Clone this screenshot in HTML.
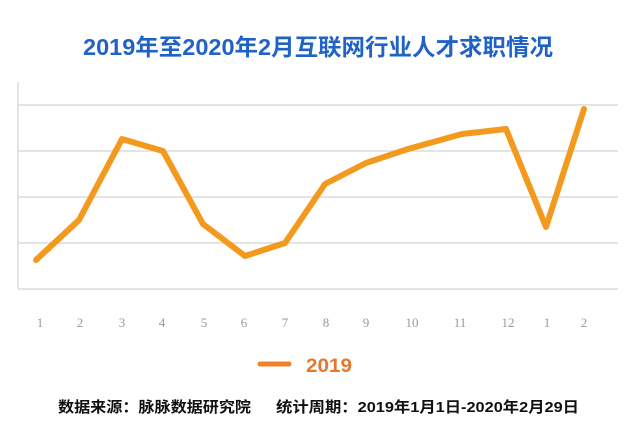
<!DOCTYPE html>
<html><head><meta charset="utf-8"><style>
body{margin:0;width:627px;height:432px;background:#fff;overflow:hidden;font-family:"Liberation Sans","Noto Sans CJK SC",sans-serif}
</style></head><body>
<svg width="627" height="432" xmlns="http://www.w3.org/2000/svg" style="position:absolute;left:0;top:0">
<text x="83" y="55" textLength="470" lengthAdjust="spacingAndGlyphs" font-size="23" font-weight="bold" fill="#1f63c6" font-family="Liberation Sans, Noto Sans CJK SC, sans-serif">2019年至2020年2月互联网行业人才求职情况</text>
<g stroke="#d4d4d4" stroke-width="1.2">
<line x1="18" y1="105" x2="618" y2="105"/>
<line x1="18" y1="151" x2="618" y2="151"/>
<line x1="18" y1="197" x2="618" y2="197"/>
<line x1="18" y1="243" x2="618" y2="243"/>
<line x1="18" y1="289" x2="618" y2="289"/>
<line x1="18" y1="82" x2="18" y2="289"/>
</g>
<polyline fill="none" stroke="#f39a1e" stroke-width="6" stroke-linejoin="round" stroke-linecap="round" points="36,260 79,220 122,139 163,151 203,224 245,256 285,243 325,184 366,163 408,149 462,134 506,129 546,227 584,109"/>
<g font-family="Liberation Serif, serif" font-size="13" fill="#999" text-anchor="middle">
<text x="40" y="327">1</text><text x="80" y="327">2</text><text x="122" y="327">3</text><text x="162" y="327">4</text><text x="204" y="327">5</text><text x="244" y="327">6</text><text x="285" y="327">7</text><text x="326" y="327">8</text><text x="366" y="327">9</text><text x="412" y="327">10</text><text x="460" y="327">11</text><text x="508" y="327">12</text><text x="547" y="327">1</text><text x="584" y="327">2</text>
</g>
<line x1="260" y1="364" x2="289" y2="364" stroke="#f0802a" stroke-width="5" stroke-linecap="round"/>
<text x="306" y="372" textLength="46" lengthAdjust="spacingAndGlyphs" font-size="19" font-weight="bold" fill="#e8772e">2019</text>
<text x="58" y="412" textLength="193" lengthAdjust="spacingAndGlyphs" font-size="15" font-weight="bold" fill="#111" font-family="Liberation Sans, Noto Sans CJK SC, sans-serif">数据来源：脉脉数据研究院</text>
<text x="276" y="412" textLength="303" lengthAdjust="spacingAndGlyphs" font-size="15" font-weight="bold" fill="#111" font-family="Liberation Sans, Noto Sans CJK SC, sans-serif">统计周期：2019年1月1日-2020年2月29日</text>
</svg>
</body></html>
